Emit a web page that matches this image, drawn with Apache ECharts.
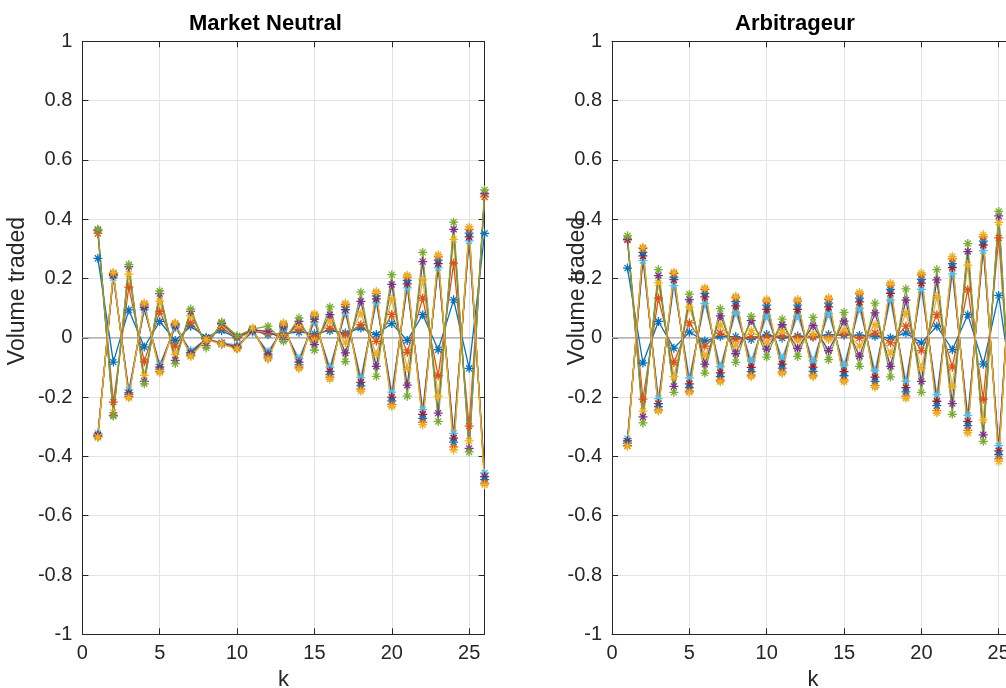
<!DOCTYPE html>
<html><head><meta charset="utf-8">
<script src="https://cdn.jsdelivr.net/npm/echarts@6/dist/echarts.min.js"></script>
<style>html,body{margin:0;padding:0;background:#fff;overflow:hidden}#c{width:1024px;height:688px}</style>
</head><body><div id="c"></div>
<script>
// ---------- data ----------
const kSteps = [1,2,3,4,5,6,7,8,9,10,11,12,13,14,15,16,17,18,19,20,21,22,23,24,25,26];
const xTickValues = [0,5,10,15,20,25];
const panelTitles = ['Market Neutral','Arbitrageur'];
const zeroLineMN = [0, 26];
const zeroLineARB = [0, 25];

// Market Neutral
const mnBlueA   = [0.268,-0.082,0.094,-0.031,0.055,-0.009,0.039,0.002,0.024,-0.001,0.024,0.011,0.014,0.019,0.014,0.024,0.016,0.033,0.011,0.048,-0.009,0.078,-0.040,0.128,-0.103,0.352];
const mnOrangeA = [0.352,-0.217,0.171,-0.081,0.089,-0.028,0.050,-0.006,0.034,-0.001,0.022,0.016,0.009,0.028,0.004,0.032,0.011,0.044,-0.012,0.079,-0.049,0.134,-0.128,0.252,-0.298,0.475];
const mnYellowA = [0.360,-0.252,0.215,-0.127,0.124,-0.056,0.074,-0.016,0.044,-0.001,0.024,0.019,0.004,0.042,-0.011,0.056,-0.017,0.083,-0.056,0.130,-0.103,0.195,-0.197,0.332,-0.348,0.482];
const mnPurpleA = [0.363,-0.262,0.240,-0.147,0.149,-0.076,0.089,-0.026,0.049,0.002,0.027,0.022,-0.006,0.055,-0.023,0.078,-0.051,0.123,-0.096,0.180,-0.160,0.257,-0.254,0.366,-0.373,0.487];
const mnGreenA  = [0.366,-0.264,0.247,-0.155,0.158,-0.087,0.097,-0.034,0.053,0.007,0.029,0.039,-0.012,0.067,-0.042,0.104,-0.080,0.154,-0.130,0.213,-0.197,0.288,-0.282,0.390,-0.385,0.499];
const mnCyanB   = [-0.322,0.202,-0.176,0.094,-0.090,0.034,-0.043,-0.004,-0.016,-0.025,0.019,-0.046,0.030,-0.070,0.053,-0.099,0.083,-0.134,0.118,-0.183,0.168,-0.242,0.236,-0.322,0.327,-0.456];
const mnDarkredB= [-0.328,0.210,-0.186,0.102,-0.099,0.040,-0.050,-0.003,-0.019,-0.030,0.024,-0.055,0.037,-0.082,0.063,-0.113,0.095,-0.150,0.131,-0.200,0.182,-0.258,0.250,-0.338,0.340,-0.468];
const mnBlueB   = [-0.332,0.214,-0.192,0.108,-0.106,0.044,-0.055,-0.003,-0.022,-0.034,0.028,-0.062,0.043,-0.091,0.071,-0.124,0.104,-0.162,0.141,-0.213,0.194,-0.272,0.262,-0.352,0.353,-0.478];
const mnOrangeB = [-0.334,0.218,-0.198,0.114,-0.113,0.048,-0.060,-0.004,-0.020,-0.036,0.031,-0.068,0.047,-0.099,0.077,-0.133,0.112,-0.173,0.150,-0.225,0.205,-0.285,0.273,-0.368,0.366,-0.490];
const mnYellowB = [-0.336,0.220,-0.202,0.117,-0.117,0.050,-0.063,-0.006,-0.021,-0.038,0.033,-0.072,0.050,-0.104,0.081,-0.139,0.117,-0.180,0.156,-0.232,0.211,-0.293,0.280,-0.378,0.374,-0.496];

// Arbitrageur
const arBlueA   = [0.235,-0.085,0.055,-0.035,0.019,-0.011,0.004,0.004,-0.006,0.011,-0.001,0.006,0.004,0.011,0.009,0.009,0.005,0.000,0.016,-0.017,0.039,-0.040,0.078,-0.089,0.143,-0.220];
const arOrangeA = [0.330,-0.207,0.134,-0.084,0.050,-0.028,0.016,-0.006,0.004,0.004,0.006,0.002,0.002,0.002,0.013,-0.001,0.016,-0.017,0.039,-0.043,0.078,-0.099,0.163,-0.207,0.337,-0.400];
const arYellowA = [0.335,-0.247,0.185,-0.131,0.104,-0.061,0.044,-0.026,0.024,-0.016,0.024,-0.011,0.014,-0.006,0.027,-0.028,0.044,-0.053,0.084,-0.103,0.139,-0.165,0.245,-0.277,0.389,-0.440];
const arPurpleA = [0.332,-0.267,0.210,-0.164,0.129,-0.089,0.074,-0.053,0.058,-0.038,0.044,-0.036,0.041,-0.043,0.056,-0.062,0.084,-0.096,0.127,-0.147,0.195,-0.222,0.291,-0.327,0.411,-0.455];
const arGreenA  = [0.344,-0.287,0.230,-0.184,0.147,-0.119,0.098,-0.083,0.072,-0.065,0.063,-0.063,0.069,-0.074,0.086,-0.096,0.117,-0.132,0.165,-0.184,0.230,-0.258,0.318,-0.349,0.426,-0.470];
const arCyanB   = [-0.340,0.260,-0.205,0.176,-0.135,0.116,-0.097,0.086,-0.078,0.074,-0.068,0.074,-0.077,0.082,-0.092,0.099,-0.111,0.128,-0.146,0.163,-0.192,0.216,-0.262,0.294,-0.364,0.400];
const arDarkredB= [-0.348,0.276,-0.222,0.196,-0.155,0.138,-0.118,0.108,-0.100,0.096,-0.089,0.096,-0.099,0.104,-0.114,0.121,-0.133,0.150,-0.168,0.184,-0.214,0.237,-0.282,0.313,-0.381,0.420];
const arBlueB   = [-0.355,0.288,-0.232,0.205,-0.168,0.150,-0.131,0.122,-0.114,0.110,-0.102,0.110,-0.113,0.117,-0.128,0.134,-0.147,0.163,-0.182,0.197,-0.229,0.250,-0.296,0.326,-0.394,0.430];
const arOrangeB = [-0.364,0.302,-0.243,0.217,-0.180,0.163,-0.143,0.135,-0.126,0.124,-0.115,0.124,-0.126,0.130,-0.142,0.148,-0.161,0.178,-0.197,0.212,-0.246,0.266,-0.312,0.340,-0.408,0.440];
const arYellowB = [-0.366,0.305,-0.247,0.221,-0.185,0.168,-0.148,0.140,-0.131,0.129,-0.120,0.129,-0.131,0.135,-0.148,0.154,-0.167,0.184,-0.204,0.219,-0.254,0.274,-0.321,0.348,-0.417,0.450];

// ---------- styling ----------
const C = {blue:'#0072BD', orange:'#D95319', yellow:'#EDB120', purple:'#7E2F8E', green:'#77AC30', cyan:'#4DBEEE', darkred:'#A2142F'};
const FONT = '"Liberation Sans", Arial, Helvetica, sans-serif';
const AX = '#262626';
const STAR = 'path://M8.6,0H11.4V20H8.6Z M0,8.6H20V11.4H0Z M2.3,4.3L4.3,2.3L17.7,15.7L15.7,17.7Z M15.7,2.3L17.7,4.3L4.3,17.7L2.3,15.7Z';

const panels = [
  {left: 82.4, series: [
    [mnBlueA,C.blue],[mnOrangeA,C.orange],[mnYellowA,C.yellow],[mnPurpleA,C.purple],[mnGreenA,C.green],
    [mnCyanB,C.cyan],[mnDarkredB,C.darkred],[mnBlueB,C.blue],[mnOrangeB,C.orange],[mnYellowB,C.yellow]], zero: zeroLineMN},
  {left: 612, series: [
    [arBlueA,C.blue],[arOrangeA,C.orange],[arYellowA,C.yellow],[arPurpleA,C.purple],[arGreenA,C.green],
    [arCyanB,C.cyan],[arDarkredB,C.darkred],[arBlueB,C.blue],[arOrangeB,C.orange],[arYellowB,C.yellow]], zero: zeroLineARB}
];
const GW = 402.2, GT = 41.3, GH = 593;

function xAx(g, pos) {
  return {type:'value', gridIndex:g, position:pos, min:0, max:26, interval:5,
    axisLine:{show:true, onZero:false, lineStyle:{color:AX, width:1}},
    axisTick:{show:true, inside:true, length:6, lineStyle:{color:AX, width:1}},
    axisLabel:{show:pos==='bottom', color:AX, fontSize:20, fontFamily:FONT, margin:9,
      formatter: v => xTickValues.indexOf(v) >= 0 ? String(v) : ''},
    splitLine:{show:pos==='bottom', lineStyle:{color:'#e3e3e3', width:1}}};
}
function yAx(g, pos) {
  return {type:'value', gridIndex:g, position:pos, min:-1, max:1, interval:0.2,
    axisLine:{show:true, onZero:false, lineStyle:{color:AX, width:1}},
    axisTick:{show:true, inside:true, length:6, lineStyle:{color:AX, width:1}},
    axisLabel:{show:pos==='left', color:AX, fontSize:20, fontFamily:FONT, margin:10,
      formatter: v => String(Math.round(v*10)/10)},
    splitLine:{show:pos==='left', lineStyle:{color:'#e3e3e3', width:1}}};
}

const grids = [], xAxes = [], yAxes = [], series = [], graphics = [];
panels.forEach((p, g) => {
  grids.push({left:p.left, top:GT, width:GW, height:GH, containLabel:false});
  xAxes.push(xAx(g,'bottom'), xAx(g,'top'));
  yAxes.push(yAx(g,'left'), yAx(g,'right'));
  series.push({type:'line', xAxisIndex:g*2, yAxisIndex:g*2, data:[[p.zero[0],0],[p.zero[1],0]],
    symbol:'none', silent:true, lineStyle:{color:'#b4b4b4', width:1.6}, z:2});
  p.series.forEach(([arr,col]) => {
    series.push({type:'line', xAxisIndex:g*2, yAxisIndex:g*2,
      data: kSteps.map((k,i) => [k, arr[i]]),
      symbol: STAR, symbolSize: 9, showSymbol: true,
      lineStyle:{color:col, width:1.3}, itemStyle:{color:col},
      emphasis:{disabled:true}, silent:true, z:3});
  });
  graphics.push({type:'text', x:p.left+183, y:24, style:{text:panelTitles[g], font:'bold 22px '+FONT, fill:'#000', align:'center', verticalAlign:'middle'}});
  graphics.push({type:'text', x:p.left+GW/2, y:680, style:{text:'k', font:'22px '+FONT, fill:AX, align:'center', verticalAlign:'middle'}});
  graphics.push({type:'text', x:(g===0 ? 18 : 578), y:291, rotation:Math.PI/2, style:{text:'Volume traded', font:'23px '+FONT, fill:AX, align:'center', verticalAlign:'middle'}});
});

const chart = echarts.init(document.getElementById('c'), null, {renderer:'canvas'});
chart.setOption({animation:false, backgroundColor:'#fff', grid:grids, xAxis:xAxes, yAxis:yAxes, series:series, graphic:graphics});
</script></body></html>
